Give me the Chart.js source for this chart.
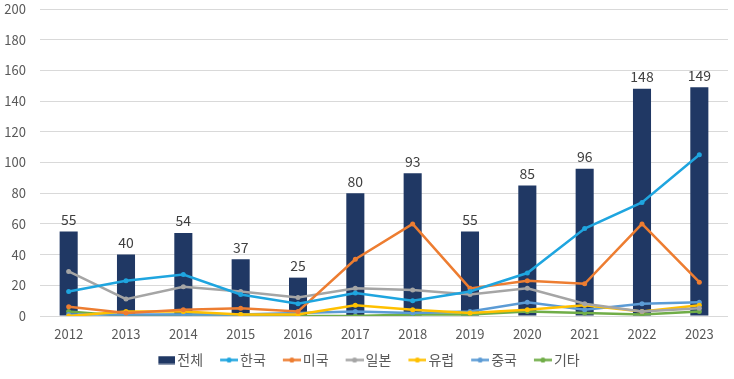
<!DOCTYPE html>
<html>
<head>
<meta charset="utf-8">
<script src="https://cdn.jsdelivr.net/npm/chart.js@4.4.1/dist/chart.umd.min.js"></script>
<style>
  html, body { margin: 0; padding: 0; background: #ffffff; }
  #wrap { width: 734px; height: 379px; position: relative; }
</style>
</head>
<body>
<div id="wrap"><canvas id="c" width="734" height="379"></canvas></div>
<script>
const years = ['2012','2013','2014','2015','2016','2017','2018','2019','2020','2021','2022','2023'];
const seriesNames = ['전체','한국','미국','일본','유럽','중국','기타'];
const totalValues = [55, 40, 54, 37, 25, 80, 93, 55, 85, 96, 148, 149];
const koreaValues = [16, 23, 27, 14, 8, 15, 10, 16, 28, 57, 74, 105];
const usaValues   = [6, 2, 4, 5, 3, 37, 60, 18, 23, 21, 60, 22];
const japanValues = [29, 11, 19, 16, 12, 18, 17, 14, 18, 8, 3, 5];
const europeValues= [0, 3, 3, 1, 1, 7, 4, 2, 4, 7, 3, 7];
const chinaValues = [1, 1, 1, 1, 2, 3, 2, 3, 9, 4, 8, 9];
const otherValues = [3, 0, 1, 1, 0, 0, 1, 1, 3, 2, 1, 3];
const yTicks = [0, 20, 40, 60, 80, 100, 120, 140, 160, 180, 200];

const FONT = '"Noto Sans CJK KR", "Noto Sans", sans-serif';
const TEXT = '#595959';
const colors = ['#203864', '#1FA5DF', '#ED7D31', '#A5A5A5', '#FFC000', '#5B9BD5', '#70AD47'];
const lineSeries = [koreaValues, usaValues, japanValues, europeValues, chinaValues, otherValues];

// legend symbols: canvas 29px wide, centred on the 19px legend box; visible part sits right next to the text
function makeIcon(i) {
  const c = document.createElement('canvas');
  c.width = 29; c.height = 9;
  const g = c.getContext('2d');
  if (i === 0) {
    g.fillStyle = colors[0];
    g.fillRect(12, 0.5, 17, 8);
  } else {
    g.strokeStyle = colors[i];
    g.lineWidth = 2.5;
    g.beginPath(); g.moveTo(11, 4.5); g.lineTo(29, 4.5); g.stroke();
    g.fillStyle = colors[i];
    g.beginPath(); g.arc(20, 4.5, 2.6, 0, Math.PI * 2); g.fill();
  }
  return c;
}
const icons = seriesNames.map((n, i) => makeIcon(i));

const datasets = [{
  type: 'bar',
  label: seriesNames[0],
  data: totalValues,
  backgroundColor: colors[0],
  borderWidth: 0,
  categoryPercentage: 1,
  barPercentage: 0.315,
  order: 10
}];
lineSeries.forEach((vals, k) => {
  datasets.push({
    type: 'line',
    label: seriesNames[k + 1],
    data: vals,
    borderColor: colors[k + 1],
    backgroundColor: colors[k + 1],
    borderWidth: 2.5,
    pointRadius: 2.5,
    pointHoverRadius: 2.5,
    pointBorderWidth: 0,
    pointStyle: 'circle',
    tension: 0,
    fill: false,
    order: k + 1
  });
});

const barLabels = {
  id: 'barLabels',
  afterDatasetsDraw(chart) {
    const meta = chart.getDatasetMeta(0);
    const ctx = chart.ctx;
    ctx.save();
    ctx.font = '14px ' + FONT;
    ctx.fillStyle = '#404040';
    ctx.textAlign = 'center';
    ctx.textBaseline = 'middle';
    meta.data.forEach((bar, i) => {
      ctx.fillText(String(totalValues[i]), bar.x, bar.y - 12);
    });
    ctx.restore();
  }
};

new Chart(document.getElementById('c'), {
  data: { labels: years, datasets },
  options: {
    responsive: false,
    animation: false,
    devicePixelRatio: 1,
    layout: { padding: { left: 3, right: 6, top: 9, bottom: 2 } },
    plugins: {
      tooltip: { enabled: false },
      legend: {
        position: 'bottom',
        labels: {
          usePointStyle: true,
          pointStyleWidth: 19,
          boxHeight: 8,
          padding: 11,
          color: TEXT,
          font: { family: FONT, size: 14 },
          sort: (a, b) => a.datasetIndex - b.datasetIndex,
          generateLabels(chart) {
            const items = Chart.defaults.plugins.legend.labels.generateLabels(chart);
            items.forEach(it => { it.pointStyle = icons[it.datasetIndex]; });
            return items;
          }
        }
      }
    },
    scales: {
      x: {
        afterFit(scale) { scale.height = 26; },
        grid: { display: false, drawTicks: false },
        border: { display: false },
        ticks: { color: TEXT, font: { family: FONT, size: 13 }, padding: 10, maxRotation: 0 }
      },
      y: {
        min: 0, max: 200,
        afterBuildTicks(scale) { scale.ticks = yTicks.map(v => ({ value: v })); },
        afterFit(scale) { scale.width = 37; scale.paddingTop = 8; scale.paddingBottom = 8; },
        grid: { color: '#D9D9D9', lineWidth: 1, drawTicks: false },
        border: { display: false },
        ticks: { color: TEXT, font: { family: FONT, size: 13 }, padding: 14 }
      }
    }
  },
  plugins: [barLabels]
});
</script>
</body>
</html>
